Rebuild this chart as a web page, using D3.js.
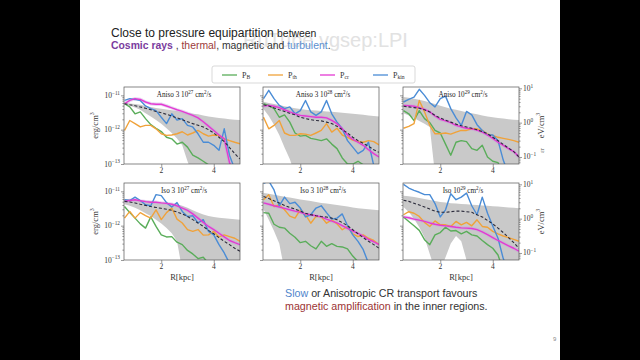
<!DOCTYPE html>
<html><head><meta charset="utf-8">
<script src="https://cdn.jsdelivr.net/npm/d3@7"></script>
<style>
body{margin:0;background:#000;}
svg{display:block;}
</style></head><body>
<script>
const W = 640, H = 360;

// radius grid, kpc
const R = [0.6,0.8,1.0,1.2,1.4,1.6,1.8,2.0,2.2,2.4,2.6,2.8,3.0,3.2,3.4,3.6,3.8,4.0,4.2,4.4,4.6,4.8,5.0];
const xTicks = [2, 4];
const yTicks = [0.1, 1, 10];            // in 1e-12 erg/cm3
const yTickLabels = ["10^-13", "10^-12", "10^-11"];
const eTicks = [0.1, 1, 10];            // eV/cm3
const eTickLabels = ["10^-1", "10^0", "10^1"];
const panelTitles = ["Aniso 3 10^27 cm^2/s", "Aniso 3 10^28 cm^2/s", "Aniso 10^29 cm^2/s",
                     "Iso 3 10^27 cm^2/s", "Iso 3 10^28 cm^2/s", "Iso 10^29 cm^2/s"];
const seriesLabels = ["P_B", "P_th", "P_cr", "P_kin"];

// values in units of 1e-12 erg/cm3 (0.05 = below the plot)
const a27B    = [5.7,4.6,2.9,3.3,2.1,1.4,1.1,0.88,0.6,0.54,0.38,0.43,0.31,0.18,0.15,0.12,0.095,0.05,0.05,0.05,0.05,0.05,0.05];
const a27th   = [0.95,1.85,1.5,1.2,1.33,1.33,1.06,0.76,0.68,0.7,0.76,0.87,0.7,0.8,0.95,0.76,0.65,0.7,0.68,0.54,0.48,0.43,0.39];
const a27cr   = [5.7,7.1,8.0,7.6,6.4,5.7,5.5,5.5,4.9,4.3,3.8,3.4,3.0,2.6,2.2,1.7,1.27,0.95,0.7,0.54,0.11,0.05,0.05];
const a27kin  = [7.1,8.0,7.6,7.1,4.9,4.1,3.6,2.3,1.5,2.9,1.9,2.1,1.33,1.2,0.76,0.43,0.43,0.35,0.25,1.06,0.18,0.07,0.05];
const a27mean = [5.7,5.3,5.0,4.6,4.2,3.8,3.4,3.1,2.8,2.5,2.2,1.95,1.7,1.5,1.35,1.2,1.0,0.8,0.6,0.45,0.3,0.2,0.14];
const a27hi   = [6.0,5.8,5.6,5.3,4.9,4.6,4.3,4.1,3.9,3.7,3.5,3.3,3.1,2.9,2.8,2.6,2.4,2.3,2.2,2.1,2.0,1.95,1.9];
const a27lo   = [5.4,5.0,4.4,3.8,3.0,2.4,1.9,1.5,1.1,0.8,0.55,0.35,0.12,0.05,0.05,0.05,0.05,0.05,0.05,0.05,0.05,0.05,0.05];

const a28B    = [5.7,5.1,4.1,2.3,2.7,1.66,0.8,0.65,0.68,0.56,0.52,0.48,0.54,0.38,0.28,0.15,0.1,0.1,0.12,0.095,0.05,0.05,0.05];
const a28th   = [2.3,1.06,1.33,1.85,0.8,0.68,0.68,0.76,0.74,0.68,0.8,0.95,1.5,0.85,1.1,0.7,0.6,0.5,0.45,0.43,0.48,0.45,0.36];
const a28cr   = [4.9,5.1,4.8,4.4,3.8,3.3,2.9,2.6,2.5,2.4,2.3,2.3,2.2,1.86,1.5,1.06,0.7,0.52,0.43,0.35,0.26,0.2,0.16];
const a28kin  = [8.0,14,8.0,5.1,4.1,4.6,2.9,3.6,7.1,3.3,2.6,3.3,7.1,2.9,1.66,1.06,0.48,0.31,0.2,0.25,0.43,0.09,0.05];
const a28mean = [5.3,4.9,4.3,3.8,3.4,3.0,2.7,2.3,2.1,1.95,1.85,1.8,1.66,1.5,1.25,1.0,0.8,0.6,0.48,0.4,0.33,0.26,0.22];
const a28hi   = [6.5,6.0,5.6,5.2,4.8,4.5,4.2,4.0,3.8,3.7,3.6,3.5,3.4,3.3,3.2,3.1,3.0,2.9,2.8,2.7,2.6,2.5,2.4];
const a28lo   = [4.0,2.5,1.4,0.7,0.3,0.14,0.05,0.05,0.05,0.05,0.05,0.05,0.05,0.05,0.05,0.05,0.05,0.05,0.05,0.05,0.05,0.05,0.05];

const a29B    = [3.6,2.9,1.85,3.6,2.1,1.6,0.95,0.8,0.38,0.18,0.43,0.48,0.45,0.28,0.25,0.35,0.16,0.12,0.11,0.05,0.05,0.05,0.05];
const a29th   = [1.1,1.25,1.5,7.1,3.3,1.33,0.76,0.76,0.8,0.74,0.85,0.95,0.95,1.06,1.06,0.95,0.74,0.68,0.6,0.56,0.52,0.48,0.43];
const a29cr   = [5.1,5.0,4.8,4.4,3.9,3.3,2.5,2.0,1.8,1.6,1.33,1.2,1.1,1.06,0.97,0.85,0.7,0.56,0.43,0.35,0.28,0.23,0.16];
const a29kin  = [6.4,7.6,8.9,15,10,6.1,4.6,8.0,9.5,4.1,2.2,1.33,3.4,2.7,1.4,0.95,0.7,0.7,0.48,0.13,0.05,0.05,0.05];
const a29mean = [4.8,4.6,4.4,4.2,3.8,3.3,2.6,2.2,1.9,1.66,1.45,1.3,1.2,1.1,1.0,0.88,0.76,0.6,0.48,0.37,0.29,0.23,0.16];
const a29hi   = [9.0,8.5,8.0,7.4,6.8,6.2,5.6,5.0,4.5,4.1,3.8,3.5,3.2,3.0,2.8,2.6,2.4,2.3,2.2,2.1,2.0,1.95,1.9];
const a29lo   = [3.0,2.6,2.2,1.8,1.5,1.2,0.05,0.05,0.05,0.05,0.05,0.05,0.05,0.05,0.05,0.05,0.05,0.05,0.05,0.05,0.05,0.05,0.05];

const i27B    = [3.6,2.4,1.66,1.13,0.85,1.8,0.95,0.54,0.47,0.48,0.33,0.28,0.19,0.15,0.11,0.12,0.08,0.05,0.05,0.05,0.05,0.05,0.05];
const i27th   = [1.66,2.6,1.66,2.4,1.95,1.66,2.9,1.5,2.4,3.26,1.55,1.2,0.77,0.68,0.77,0.53,0.54,0.68,0.47,0.54,0.48,0.43,0.35];
const i27cr   = [5.1,5.4,5.7,5.3,5.0,4.8,4.8,4.6,4.45,4.2,3.8,3.26,2.8,2.2,1.66,1.25,0.95,0.77,0.6,0.47,0.37,0.32,0.28];
const i27kin  = [5.7,5.4,6.8,5.4,4.07,3.8,8.0,7.5,4.7,3.5,4.7,2.6,1.86,1.95,1.2,1.5,0.68,0.54,0.28,0.16,0.08,0.05,0.05];
const i27mean = [5.1,4.9,4.6,4.2,3.9,3.6,3.4,3.2,3.0,2.8,2.5,2.2,1.86,1.5,1.2,0.95,0.73,0.58,0.45,0.35,0.28,0.22,0.18];
const i27hi   = [6.0,5.9,5.8,5.6,5.4,5.2,5.0,4.8,4.6,4.4,4.2,3.8,3.3,2.8,2.4,2.1,1.9,1.8,1.7,1.65,1.6,1.55,1.5];
const i27lo   = [4.2,3.8,3.3,2.8,2.3,1.9,1.5,1.15,0.85,0.6,0.35,0.05,0.05,0.05,0.05,0.05,0.05,0.05,0.05,0.05,0.05,0.05,0.05];

const i28B    = [2.4,2.3,1.1,0.9,0.85,0.6,0.46,0.32,0.35,0.26,0.21,0.35,0.25,0.3,0.25,0.24,0.21,0.13,0.09,0.05,0.05,0.05,0.05];
const i28th   = [5.7,8.0,3.6,4.07,2.9,1.9,1.66,2.9,2.08,1.18,1.86,1.8,1.18,1.48,1.13,0.76,0.95,0.58,0.48,0.54,0.43,0.37,0.28];
const i28cr   = [4.6,4.2,3.8,3.5,3.2,2.9,2.65,2.45,2.2,2.08,1.95,1.8,1.55,1.35,1.2,1.0,0.83,0.7,0.6,0.5,0.4,0.34,0.28];
const i28kin  = [17,20,11,3.8,6.8,4.4,4.8,3.26,1.8,2.08,3.26,3.8,2.4,1.55,1.66,2.2,1.0,0.54,0.35,0.2,0.08,0.05,0.05];
const i28mean = [7.1,6.2,5.3,4.6,3.9,3.4,3.05,2.65,2.3,2.1,1.95,1.85,1.78,1.66,1.48,1.23,1.0,0.76,0.58,0.45,0.35,0.28,0.22];
const i28hi   = [9.0,8.5,8.0,7.5,7.0,6.6,6.2,5.8,5.5,5.2,4.9,4.6,4.4,4.2,4.0,3.8,3.6,3.4,3.2,3.1,3.0,2.9,2.8];
const i28lo   = [3.0,1.5,0.7,0.3,0.05,0.05,0.05,0.05,0.05,0.05,0.05,0.05,0.05,0.05,0.05,0.05,0.05,0.05,0.05,0.05,0.05,0.05,0.05];

const i29B    = [1.8,1.33,0.99,0.73,0.39,0.28,0.54,0.63,0.9,0.7,0.72,0.58,0.68,0.54,0.5,0.37,0.28,0.22,0.14,0.05,0.05,0.05,0.05];
const i29th   = [2.08,2.55,2.3,1.86,1.25,0.95,1.38,1.06,1.06,0.95,1.33,1.06,1.25,0.99,1.48,0.95,0.9,0.68,0.58,0.5,0.45,0.4,0.35];
const i29cr   = [1.8,1.7,1.55,1.45,1.33,1.2,1.1,1.03,0.99,0.95,0.9,0.86,0.85,0.83,0.77,0.66,0.55,0.45,0.37,0.31,0.26,0.22,0.18];
const i29kin  = [16,12.5,10.7,9.4,8.0,8.0,4.4,1.8,2.9,8.5,5.7,6.8,8.9,3.8,2.08,6.8,2.3,0.98,0.43,0.11,0.05,0.05,0.05];
const i29mean = [5.5,5.1,4.5,4.0,3.5,3.05,2.65,2.45,2.45,2.55,2.65,2.65,2.55,2.45,2.08,1.8,1.42,1.13,0.85,0.63,0.45,0.32,0.22];
const i29hi   = [7.5,7.2,6.8,6.4,6.0,5.6,5.2,4.9,4.7,4.5,4.4,4.3,4.2,4.1,4.0,3.9,3.8,3.7,3.6,3.5,3.4,3.3,3.2];
const i29lo   = [3.5,2.5,1.6,0.9,0.45,0.15,0.05,0.05,0.12,0.3,0.5,0.35,0.1,0.05,0.05,0.05,0.05,0.05,0.05,0.05,0.05,0.05,0.05];

const panels = [
  {B: a27B, th: a27th, cr: a27cr, kin: a27kin, mean: a27mean, hi: a27hi, lo: a27lo},
  {B: a28B, th: a28th, cr: a28cr, kin: a28kin, mean: a28mean, hi: a28hi, lo: a28lo},
  {B: a29B, th: a29th, cr: a29cr, kin: a29kin, mean: a29mean, hi: a29hi, lo: a29lo},
  {B: i27B, th: i27th, cr: i27cr, kin: i27kin, mean: i27mean, hi: i27hi, lo: i27lo},
  {B: i28B, th: i28th, cr: i28cr, kin: i28kin, mean: i28mean, hi: i28hi, lo: i28lo},
  {B: i29B, th: i29th, cr: i29cr, kin: i29kin, mean: i29mean, hi: i29hi, lo: i29lo}
];
panels.forEach((p, i) => p.title = panelTitles[i]);

const keys = ["B", "th", "cr", "kin"];
const colors = {B: "#5aad5a", th: "#f0a23a", cr: "#e43ad2", kin: "#4a8cd6"};
const ERG_PER_EV = 1.602;   // 1 eV/cm3 = 1.602e-12 erg/cm3

const serif = "'Liberation Serif', 'DejaVu Serif', serif";
const sans = "'Liberation Sans', Arial, sans-serif";

// text with ^sup and _sub parts
function richText(sel, str, size) {
  const parts = str.split(/(\^-?\d+|_[a-zA-Z]+)/).filter(s => s.length);
  let shift = 0;
  parts.forEach(p => {
    let target = 0, txt = p, fs = size;
    if (p[0] === '^') { target = -size * 0.42; txt = p.slice(1).replace('-', '\u2212'); fs = size * 0.7; }
    else if (p[0] === '_') { target = size * 0.22; txt = p.slice(1); fs = size * 0.7; }
    sel.append('tspan').attr('dy', target - shift).attr('font-size', fs).text(txt);
    shift = target;
  });
  return sel;
}

const svg = d3.select('body').append('svg').attr('width', W).attr('height', H);
svg.append('rect').attr('width', W).attr('height', H).attr('fill', '#000');
svg.append('rect').attr('x', 80).attr('width', 480).attr('height', H).attr('fill', '#fff');

// watermark of the video source
svg.append('text').attr('x', 243).attr('y', 47).attr('font-family', sans)
   .attr('font-size', 20).attr('fill', '#e2e2e2').text('RuTube vgsep:LPI');

// slide heading
const h1 = svg.append('text').attr('x', 111).attr('y', 37).attr('font-family', sans).attr('fill', '#222');
h1.append('tspan').attr('font-size', 12).text('Close to pressure equipartition ');
h1.append('tspan').attr('font-size', 10.4).text('between');
const h2 = svg.append('text').attr('x', 111).attr('y', 49).attr('font-family', sans).attr('font-size', 10.4).attr('fill', '#333');
h2.append('tspan').attr('fill', '#7a3c9e').attr('font-weight', 'bold').text('Cosmic rays');
h2.append('tspan').text(' , ');
h2.append('tspan').attr('fill', '#9c3a3a').text('thermal');
h2.append('tspan').text(', magnetic and ');
h2.append('tspan').attr('fill', '#5b8fd0').text('turbulent');
h2.append('tspan').text('.');

// legend
const leg = svg.append('g');
leg.append('rect').attr('x', 212).attr('y', 66).attr('width', 203).attr('height', 17)
   .attr('fill', '#fff').attr('stroke', '#cfcfcf').attr('stroke-width', 0.8).attr('rx', 2);
const legX = [222, 268, 320, 373];
keys.forEach((k, i) => {
  leg.append('line').attr('x1', legX[i]).attr('x2', legX[i] + 15).attr('y1', 75).attr('y2', 75)
     .attr('stroke', colors[k]).attr('stroke-width', 1.3);
  richText(leg.append('text').attr('x', legX[i] + 20).attr('y', 77.5).attr('font-family', serif)
     .attr('fill', '#333'), seriesLabels[i], 8);
});

// panels
const colX = [124, 263, 403], rowY = [87, 183];
const pw = 116, ph = 77;
const x = d3.scaleLinear().domain([0.58, 5.0]).range([0, pw]);
const y = d3.scaleLog().domain([0.1, 17.5]).range([ph, 0]);
const yEv = d3.scaleLog().domain([0.1 / ERG_PER_EV, 17.5 / ERG_PER_EV]).range([ph, 0]);

const minorTicks = scale => {
  const [a, b] = scale.domain();
  const out = [];
  for (let d = Math.floor(Math.log10(a)); d <= Math.ceil(Math.log10(b)); d++)
    for (let m = 2; m < 10; m++) {
      const v = m * Math.pow(10, d);
      if (v >= a && v <= b) out.push(v);
    }
  return out;
};

const line = d3.line().x((d, i) => x(R[i])).y(d => y(d));
const band = d3.area().x((d, i) => x(R[i])).y0(d => y(d[0])).y1(d => y(d[1]));

panels.forEach((p, i) => {
  const col = i % 3, row = Math.floor(i / 3);
  const g = svg.append('g').attr('transform', `translate(${colX[col]},${rowY[row]})`);
  g.append('clipPath').attr('id', 'clip' + i).append('rect').attr('width', pw).attr('height', ph);
  const plot = g.append('g').attr('clip-path', `url(#clip${i})`);

  plot.append('path').attr('d', band(p.lo.map((v, j) => [v, p.hi[j]])))
      .attr('fill', '#c9c9c9');
  // faint halo round the CR curve
  plot.append('path').attr('d', line(p.cr)).attr('fill', 'none')
      .attr('stroke', '#c79be0').attr('stroke-opacity', 0.4).attr('stroke-width', 3.4);
  ["B", "th", "kin", "cr"].forEach(k => {
    plot.append('path').attr('d', line(p[k])).attr('fill', 'none')
        .attr('stroke', colors[k]).attr('stroke-width', 1.4).attr('stroke-linejoin', 'round');
  });
  plot.append('path').attr('d', line(p.mean)).attr('fill', 'none')
      .attr('stroke', '#2a2a3a').attr('stroke-width', 1.1).attr('stroke-dasharray', '3,2');

  g.append('rect').attr('width', pw).attr('height', ph).attr('fill', 'none')
   .attr('stroke', '#555').attr('stroke-width', 0.7);

  // axes: ticks only, labels drawn below
  g.append('g').call(d3.axisLeft(y).tickValues(yTicks).tickSize(3).tickSizeOuter(0).tickFormat(''));
  g.append('g').call(d3.axisLeft(y).tickValues(minorTicks(y)).tickSize(1.6).tickSizeOuter(0).tickFormat(''));
  g.append('g').attr('transform', `translate(0,${ph})`)
   .call(d3.axisBottom(x).tickValues(xTicks).tickSize(3).tickSizeOuter(0).tickFormat(''));
  if (col === 2) {
    g.append('g').attr('transform', `translate(${pw},0)`)
     .call(d3.axisRight(yEv).tickValues(eTicks).tickSize(3).tickSizeOuter(0).tickFormat(''));
    g.append('g').attr('transform', `translate(${pw},0)`)
     .call(d3.axisRight(yEv).tickValues(minorTicks(yEv)).tickSize(1.6).tickSizeOuter(0).tickFormat(''));
    eTicks.forEach((v, j) => {
      richText(g.append('text').attr('x', pw + 4).attr('y', yEv(v) + 2.5).attr('font-family', serif)
        .attr('fill', '#333'), eTickLabels[j], 7.5);
    });
    richText(g.append('text').attr('transform', `translate(${pw + 25},${ph / 2}) rotate(-90)`)
      .attr('text-anchor', 'middle').attr('font-family', serif).attr('fill', '#333'), 'eV/cm^3', 8.5);
    if (row === 0) {
      g.append('text').attr('transform', `translate(${pw + 25},${ph / 2 + 25}) rotate(-90)`)
       .attr('text-anchor', 'middle').attr('font-family', serif).attr('font-size', 6)
       .attr('fill', '#555').text('\u03b5r');
    }
  }
  g.selectAll('.domain').remove();
  g.selectAll('.tick line').attr('stroke', '#555').attr('stroke-width', 0.6);

  xTicks.forEach(v => {
    g.append('text').attr('x', x(v)).attr('y', ph + 9).attr('text-anchor', 'middle')
     .attr('font-family', serif).attr('font-size', 7.5).attr('fill', '#333').text(v);
  });
  if (col === 0) {
    yTicks.forEach((v, j) => {
      richText(g.append('text').attr('x', -4).attr('y', y(v) + 2.5).attr('text-anchor', 'end')
        .attr('font-family', serif).attr('fill', '#333'), yTickLabels[j], 7.5);
    });
    richText(g.append('text').attr('transform', `translate(-26,${ph / 2}) rotate(-90)`)
      .attr('text-anchor', 'middle').attr('font-family', serif).attr('fill', '#333'), 'erg/cm^3', 8.5);
  }
  if (row === 1) {
    g.append('text').attr('x', pw / 2).attr('y', ph + 20).attr('text-anchor', 'middle')
     .attr('font-family', serif).attr('font-size', 8.5).attr('fill', '#333').text('R[kpc]');
  }
  richText(g.append('text').attr('x', pw / 2 + 2).attr('y', 10).attr('text-anchor', 'middle')
    .attr('font-family', serif).attr('fill', '#222'), p.title, 7.2);
});

// closing remark
const t1 = svg.append('text').attr('x', 285).attr('y', 297).attr('font-family', sans)
   .attr('font-size', 10.7).attr('fill', '#333');
t1.append('tspan').attr('fill', '#4f86cc').text('Slow');
t1.append('tspan').text(' or Anisotropic CR transport favours');
const t2 = svg.append('text').attr('x', 285).attr('y', 310).attr('font-family', sans)
   .attr('font-size', 10.7).attr('fill', '#333');
t2.append('tspan').attr('fill', '#9c3434').text('magnetic amplification');
t2.append('tspan').text(' in the inner regions.');

svg.append('text').attr('x', 553).attr('y', 341).attr('font-family', sans).attr('font-size', 6)
   .attr('fill', '#888').text('9');
</script></body></html>
